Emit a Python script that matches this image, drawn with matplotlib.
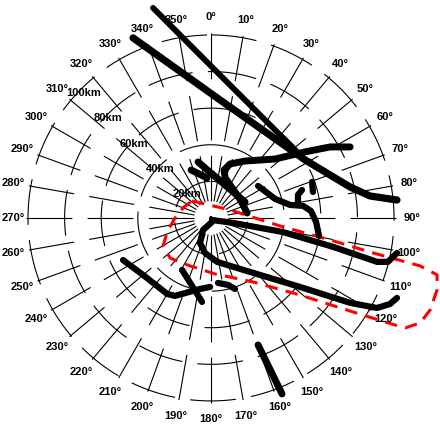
import numpy as np
import matplotlib
matplotlib.use('Agg')
import matplotlib.pyplot as plt

plt.rcParams['font.family'] = ['Liberation Sans', 'DejaVu Sans']
plt.rcParams['lines.scale_dashes'] = False

# -------------------------
# range rings / azimuths
# -------------------------
ring_km = [20, 40, 60, 80, 100]
ring_labels = ['20km', '40km', '60km', '80km', '100km']
azimuths = np.arange(0, 360, 10)
az_labels = ['%d\u00b0' % a for a in azimuths]

# -------------------------
# tracks: east / north (km) from the radar site
# -------------------------
track1_x = [-31.7, 4.9, 51.4, 65.0, 76.0, 86.9, 101.6]
track1_y = [114.8, 78.1, 31.7, 23.5, 16.9, 12.0, 9.8]

track2_x = [-42.6, 4.9, 51.4, 65.0, 76.0, 86.9, 101.6]
track2_y = [98.4, 64.5, 31.7, 23.5, 16.9, 12.0, 9.8]

track3_x = [19.7, 16.4, 12.0, 7.7, 7.1, 10.4, 18.6, 35.0, 51.4, 65.0, 76.0]
track3_y = [2.7, 9.3, 15.8, 21.9, 26.2, 29.5, 31.1, 32.2, 36.1, 38.8, 38.8]

track4_x = [-7.1, 18.6]
track4_y = [30.6, 8.7]
track4b_x = [-10.9, -2.2]
track4b_y = [26.2, 21.9]

track5_x = [25.7, 35.0, 43.2, 50.3, 54.6, 57.4, 59.0]
track5_y = [17.5, 10.4, 7.1, 6.6, 3.8, -2.2, -9.8]
track5b_x = [47.5, 47.5, 49.7]
track5b_y = [7.1, 12.6, 15.3]
track5c_x = [55.2, 55.7]
track5c_y = [19.7, 14.2]

track6_x = [0.5, 12.0, 39.3, 66.7, 90.7, 96.7, 101.6]
track6_y = [-1.1, -2.7, -7.7, -15.8, -24.0, -24.0, -19.1]

track7_x = [0.5, -4.4, -6.0, -3.3, 3.3, 21.3, 48.6, 76.0, 90.7, 97.8, 101.6]
track7_y = [-2.2, -6.6, -13.7, -19.1, -24.0, -29.5, -37.7, -46.4, -49.2, -47.0, -43.7]

track8_x = [-48.1, -37.2, -24.0, -19.7, -6.0, -0.5]
track8_y = [-23.0, -31.1, -41.5, -42.6, -38.8, -37.7]
track8b_x = [-15.8, -4.9]
track8b_y = [-28.4, -45.9]

track9_x = [3.8, 9.3, 13.1]
track9_y = [-35.5, -36.6, -38.8]

track10_x = [25.7, 38.8]
track10_y = [-69.4, -96.2]

# warned area outline
area_x = [-10.4, 10.4, 37.7, 65.0, 88.5, 114.2, 123.5, 123.5, 119.7, 114.2,
          106.0, 100.5, 77.6, 48.6, 23.0, 2.2, -11.5, -22.4, -26.2, -24.0,
          -19.7, -14.8, -10.4]
area_y = [9.3, 4.4, -4.4, -12.0, -19.1, -26.2, -31.1, -39.3, -50.3, -57.4,
          -60.1, -58.5, -51.4, -42.1, -35.0, -30.6, -26.2, -21.9, -15.3, -7.7,
          0.0, 6.0, 9.3]


def polar_xy(az_deg, r):
    a = np.radians(az_deg)
    return r * np.sin(a), r * np.cos(a)


fig = plt.figure(figsize=(4.4, 4.24), dpi=100)
ax = fig.add_axes([0, 0, 1, 1])
ax.set_xlim(-115.3, 125.1)
ax.set_ylim(-112.6, 119.1)
ax.axis('off')

grid_kw = dict(color='k', lw=0.8, dashes=(33, 11), zorder=1)

# spokes, drawn from the outside in
for a in azimuths:
    x, y = polar_xy(a, np.array([101.0, 0.0]))
    ax.plot(x, y, **grid_kw)

# range rings, clockwise from north
theta = np.linspace(0, 360, 721)
for r in ring_km:
    x, y = polar_xy(theta, r)
    ax.plot(x, y, **grid_kw)

for a, lab in zip(azimuths, az_labels):
    # keep the west label inside the frame
    x, y = polar_xy(a, 108 if a == 270 else 110)
    ax.text(x, y, lab, ha='center', va='center', fontsize=8, fontweight='bold')

for r, lab in zip(ring_km, ring_labels):
    x, y = polar_xy(314, r - 1.5)
    if r == 100:
        x += 1.5
    ax.text(x, y, lab, ha='center', va='center', fontsize=8, fontweight='bold', zorder=4)

ax.plot(area_x, area_y, color='#ff0000', lw=2.2, dashes=(9, 6), zorder=2)

tracks = [
    (track1_x, track1_y, 4.2),
    (track2_x, track2_y, 5.2),
    (track3_x, track3_y, 5.0),
    (track4_x, track4_y, 5.0),
    (track4b_x, track4b_y, 5.0),
    (track5_x, track5_y, 4.5),
    (track5b_x, track5b_y, 4.5),
    (track5c_x, track5c_y, 4.5),
    (track6_x, track6_y, 4.5),
    (track7_x, track7_y, 4.5),
    (track8_x, track8_y, 4.5),
    (track8b_x, track8b_y, 4.5),
    (track9_x, track9_y, 4.5),
    (track10_x, track10_y, 5.0),
]
for tx, ty, w in tracks:
    ax.plot(tx, ty, color='k', lw=w, solid_capstyle='round',
            solid_joinstyle='round', zorder=3)

fig.savefig('out.png', dpi=100)
